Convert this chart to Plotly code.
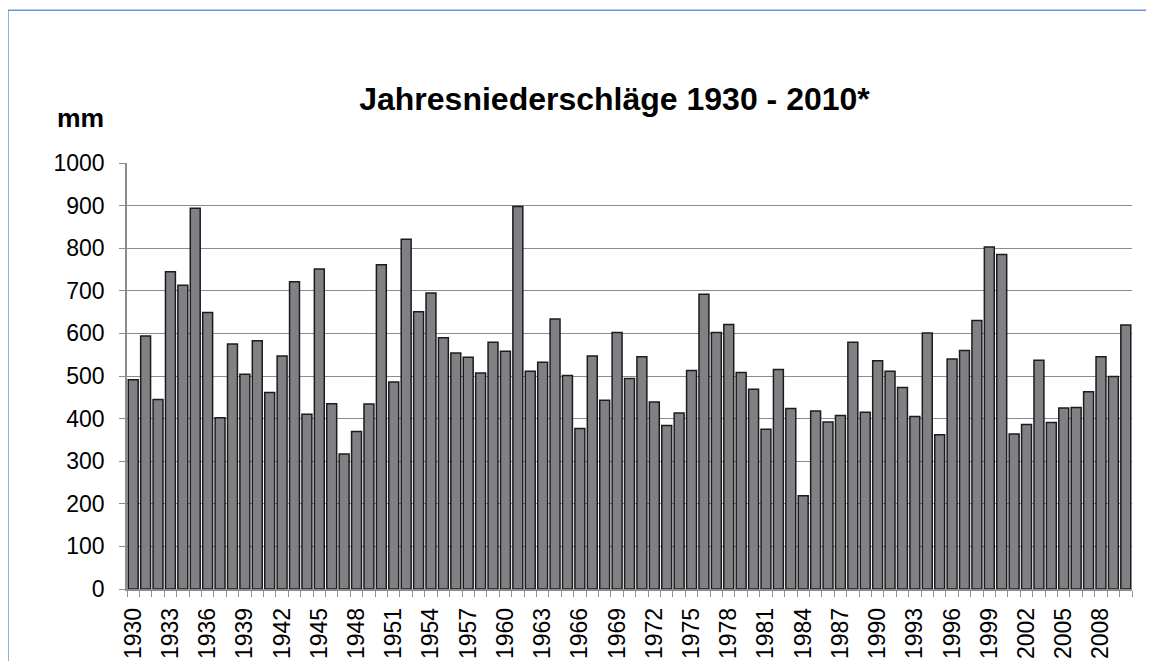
import plotly.graph_objects as go

years = list(range(1930, 2011))
precip_mm = [
    491, 594, 445, 745, 713, 894, 649, 402, 575, 504,
    583, 461, 547, 721, 410, 751, 435, 317, 370, 434,
    761, 486, 821, 651, 695, 590, 554, 544, 507, 579,
    558, 898, 511, 532, 634, 501, 377, 547, 443, 602,
    494, 545, 439, 384, 413, 513, 692, 602, 621, 508,
    469, 375, 515, 424, 219, 418, 392, 407, 579, 415,
    536, 511, 473, 405, 601, 362, 540, 560, 630, 803,
    785, 364, 386, 537, 391, 425, 426, 463, 545, 499,
    620,
]
tick_years = years[::3]
tick_labels = [str(y) for y in tick_years]
y_ticks = list(range(0, 1001, 100))

title_text = "Jahresniederschläge 1930 - 2010*"
unit_text = "mm"

FONT = "Liberation Sans, Arial, sans-serif"
GRID = "#8c8c8c"

# page body has an 8px margin all round; keep the figure inside the window
# and work in reference-pixel coordinates
OFF = 8
W, H = 1154 - 2 * OFF, 669 - 2 * OFF
L = 127 - OFF
T = 163 - OFF
R = W - (1132 - OFF)
B = H - (589.5 - OFF)
pw = W - L - R
ph = H - T - B

def px(x):
    return (x - OFF - L) / pw

def py(y):
    return (H - B - (y - OFF)) / ph

fig = go.Figure(
    go.Bar(
        x=years,
        y=precip_mm,
        marker=dict(color="#808184", line=dict(color="#1c1c1c", width=1.5)),
    )
)

fig.update_layout(
    width=W,
    height=H,
    margin=dict(l=L, r=R, t=T, b=B, pad=0),
    paper_bgcolor="white",
    plot_bgcolor="white",
    bargap=0.2,
    showlegend=False,
    font=dict(family=FONT, color="black"),
    title=dict(
        text="<b>" + title_text + "</b>",
        x=(614.5 - OFF) / W, xref="container", xanchor="center",
        y=1 - (99 - OFF) / H, yref="container", yanchor="middle",
        font=dict(family=FONT, size=32, color="black"),
    ),
)

fig.update_xaxes(
    automargin=False,
    range=[1929.5, 2010.5],
    tickmode="array",
    tickvals=tick_years,
    ticktext=tick_labels,
    tickangle=-90,
    tickfont=dict(family=FONT, size=23, color="black"),
    ticks="outside",
    ticklen=0,
    ticklabelstandoff=8,
    showline=True,
    linecolor=GRID,
    linewidth=1.5,
    showgrid=False,
    zeroline=False,
    minor=dict(tick0=1929.5, dtick=1, ticks="outside", ticklen=6,
               tickcolor=GRID, tickwidth=1.2, showgrid=False),
)

fig.update_yaxes(
    automargin=False,
    range=[0, 1000],
    tickmode="array",
    tickvals=y_ticks,
    ticks="outside",
    ticklen=6,
    tickcolor=GRID,
    tickwidth=1.2,
    tickfont=dict(family=FONT, size=23, color="black"),
    ticklabelstandoff=10,
    showline=True,
    linecolor=GRID,
    linewidth=1.5,
    showgrid=True,
    gridcolor=GRID,
    gridwidth=1.2,
    zeroline=False,
)

fig.add_annotation(
    text="<b>" + unit_text + "</b>",
    xref="paper", yref="paper",
    x=px(106), y=py(117.5),
    xanchor="right", yanchor="middle",
    showarrow=False,
    font=dict(family=FONT, size=26.5, color="black"),
)

# chart frame: only its left and top edges fall inside the picture
BORDER = dict(color="#6a93cf", width=1.5)
fig.add_shape(type="line", xref="paper", yref="paper",
              x0=px(8), y0=py(10), x1=px(1200), y1=py(10),
              line=BORDER, layer="above")
fig.add_shape(type="line", xref="paper", yref="paper",
              x0=px(8), y0=py(10), x1=px(8), y1=py(720),
              line=BORDER, layer="above")

fig.write_html("out.html")
